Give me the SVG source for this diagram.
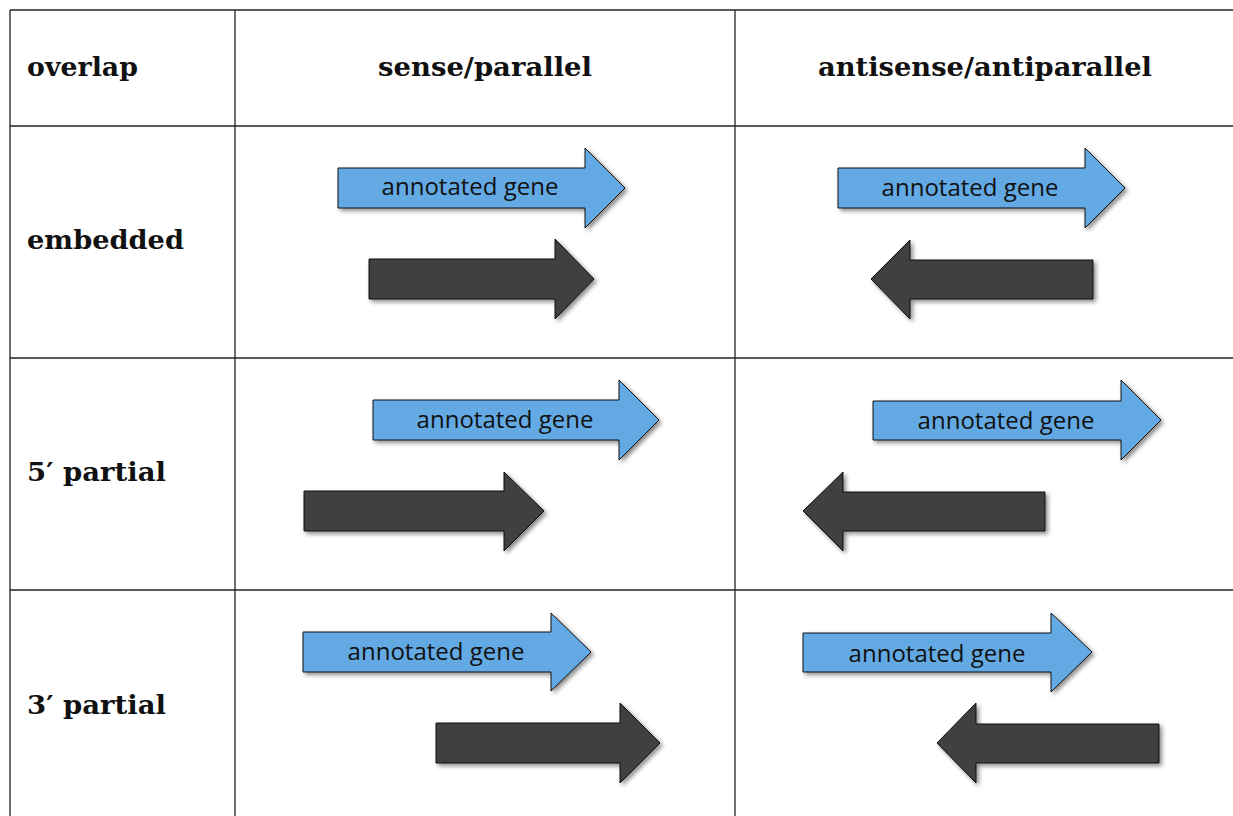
<svg xmlns="http://www.w3.org/2000/svg" width="1233" height="816" viewBox="0 0 1233 816">
<style>
.grid{stroke:#222;stroke-width:1.3;fill:none}
.hdr{font-family:"DejaVu Serif","Liberation Serif",serif;font-weight:bold;font-size:26px;fill:#111}
.blue{fill:#63a9e3;stroke:#111;stroke-width:1;filter:url(#sh)}
.dark{fill:#404040;stroke:#111;stroke-width:1;filter:url(#sh)}
.lbl{font-family:"Open Sans","Noto Sans",sans-serif;font-size:24px;fill:#111;text-anchor:middle}
</style>
<defs>
<filter id="sh" x="-10%" y="-20%" width="130%" height="150%">
<feDropShadow dx="2.5" dy="2.5" stdDeviation="2" flood-color="#000" flood-opacity="0.45"/>
</filter>
</defs>
<rect width="1233" height="816" fill="#fff"/>
<g id="table" class="grid">
<line x1="10" y1="10" x2="1233" y2="10"/>
<line x1="10" y1="126" x2="1233" y2="126"/>
<line x1="10" y1="358" x2="1233" y2="358"/>
<line x1="10" y1="590" x2="1233" y2="590"/>
<line x1="10" y1="10" x2="10" y2="816"/>
<line x1="235" y1="10" x2="235" y2="816"/>
<line x1="735" y1="10" x2="735" y2="816"/>
</g>
<g id="headers">
<text class="hdr" x="27" y="76" textLength="111" lengthAdjust="spacingAndGlyphs">overlap</text>
<text class="hdr" x="378" y="76" textLength="214" lengthAdjust="spacingAndGlyphs">sense/parallel</text>
<text class="hdr" x="818" y="76" textLength="334" lengthAdjust="spacingAndGlyphs">antisense/antiparallel</text>
<text class="hdr" x="27" y="249" textLength="157" lengthAdjust="spacingAndGlyphs">embedded</text>
<text class="hdr" x="27" y="481" textLength="139" lengthAdjust="spacingAndGlyphs">5′ partial</text>
<text class="hdr" x="27" y="714" textLength="139" lengthAdjust="spacingAndGlyphs">3′ partial</text>
</g>
<g id="r1-sense">
<path class="blue" d="M338,168 H585 V148 L625,188 L585,228 V208 H338 Z"/>
<text class="lbl" x="470" y="195">annotated gene</text>
<path class="dark" d="M369,259 H555 V239 L594,279 L555,319 V299 H369 Z"/>
</g>
<g id="r1-anti">
<path class="blue" d="M838,168 H1085 V148 L1125,188 L1085,228 V208 H838 Z"/>
<text class="lbl" x="970" y="196">annotated gene</text>
<path class="dark" d="M1093,260 H910 V240 L871,279 L910,319 V299 H1093 Z"/>
</g>
<g id="r2-sense">
<path class="blue" d="M373,400 H619 V380 L659,420 L619,460 V440 H373 Z"/>
<text class="lbl" x="505" y="428">annotated gene</text>
<path class="dark" d="M304,491 H504 V472 L544,511 L504,551 V531 H304 Z"/>
</g>
<g id="r2-anti">
<path class="blue" d="M873,401 H1121 V380 L1161,420 L1121,460 V440 H873 Z"/>
<text class="lbl" x="1006" y="429">annotated gene</text>
<path class="dark" d="M1045,492 H843 V472 L803,511 L843,551 V531 H1045 Z"/>
</g>
<g id="r3-sense">
<path class="blue" d="M303,632 H551 V613 L591,652 L551,691 V672 H303 Z"/>
<text class="lbl" x="436" y="660">annotated gene</text>
<path class="dark" d="M436,723 H620 V703 L660,743 L620,783 V763 H436 Z"/>
</g>
<g id="r3-anti">
<path class="blue" d="M803,633 H1051 V613 L1092,652 L1051,692 V672 H803 Z"/>
<text class="lbl" x="937" y="662">annotated gene</text>
<path class="dark" d="M1159,724 H976 V703 L937,743 L976,783 V763 H1159 Z"/>
</g>
</svg>
